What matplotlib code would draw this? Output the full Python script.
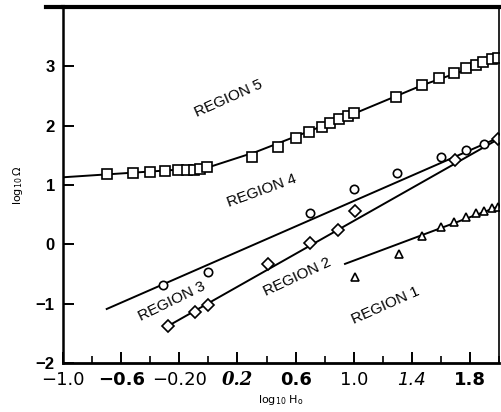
import matplotlib.pyplot as plt
from matplotlib.ticker import MultipleLocator

# region 5 (squares)
r5_x = [-0.70, -0.52, -0.40, -0.30, -0.21, -0.15, -0.10, -0.06, -0.01,
        0.30, 0.48, 0.60, 0.69, 0.78, 0.84, 0.90, 0.96, 1.00,
        1.29, 1.47, 1.59, 1.69, 1.77, 1.84, 1.89, 1.95, 1.99]
r5_y = [1.18, 1.20, 1.22, 1.23, 1.25, 1.25, 1.25, 1.27, 1.30,
        1.47, 1.64, 1.79, 1.89, 1.97, 2.04, 2.11, 2.17, 2.21,
        2.48, 2.68, 2.80, 2.88, 2.97, 3.03, 3.08, 3.12, 3.14]
r5_line_x = [-1.0, -0.01, 0.33, 1.0, 1.47, 2.0]
r5_line_y = [1.13, 1.29, 1.56, 2.20, 2.68, 3.14]

# region 4 / 3 (circles)
r4_x = [-0.31, 0.00, 0.70, 1.00, 1.30, 1.60, 1.77, 1.90]
r4_y = [-0.69, -0.47, 0.52, 0.93, 1.21, 1.47, 1.59, 1.69]
r4_line_x = [-0.70, 2.0]
r4_line_y = [-1.09, 1.80]

# region 2 / 3 (diamonds)
r2_x = [-0.28, -0.09, 0.00, 0.41, 0.70, 0.89, 1.01, 1.70, 1.99]
r2_y = [-1.38, -1.14, -1.02, -0.33, 0.02, 0.24, 0.56, 1.42, 1.77]
r2_line_x = [-0.28, 2.0]
r2_line_y = [-1.38, 1.78]

# region 1 (triangles)
r1_x = [1.01, 1.31, 1.47, 1.60, 1.69, 1.77, 1.84, 1.90, 1.95, 1.99]
r1_y = [-0.55, -0.17, 0.14, 0.29, 0.37, 0.46, 0.52, 0.56, 0.61, 0.63]
r1_line_x = [0.94, 2.0]
r1_line_y = [-0.33, 0.64]

region_labels = ["REGION 5", "REGION 4", "REGION 3", "REGION 2", "REGION 1"]
label_x = [0.14, 0.37, -0.25, 0.61, 1.22]
label_y = [2.46, 0.91, -0.97, -0.55, -1.04]
label_rot = [24, 20, 26, 25, 24]

xtick_vals = [-1.0, -0.6, -0.2, 0.2, 0.6, 1.0, 1.4, 1.8]
xtick_text = ["\u22121.0", "\u22120.6", "\u22120.20", "0.2", "0.6", "1.0", "1.4", "1.8"]
ytick_vals = [-2, -1, 0, 1, 2, 3]
ytick_text = ["\u22122", "\u22121", "0", "1", "2", "3"]

fig = plt.figure(figsize=(5.01, 4.12), dpi=100)
ax = fig.add_axes([0.126, 0.119, 0.870, 0.864])

mk = dict(color="black", mfc="white", mec="black", mew=1.2, ls="none")
ax.plot(r5_line_x, r5_line_y, color="black", lw=1.4)
ax.plot(r4_line_x, r4_line_y, color="black", lw=1.4)
ax.plot(r2_line_x, r2_line_y, color="black", lw=1.4)
ax.plot(r1_line_x, r1_line_y, color="black", lw=1.4)
ax.plot(r5_x, r5_y, marker="s", ms=6.5, **mk)
ax.plot(r4_x, r4_y, marker="o", ms=6, **mk)
ax.plot(r2_x, r2_y, marker="D", ms=6.3, **mk)
ax.plot(r1_x, r1_y, marker="^", ms=6.2, **mk)

for t, x, y, r in zip(region_labels, label_x, label_y, label_rot):
    ax.text(x, y, t, rotation=r, ha="center", va="center", fontsize=11,
            family="Liberation Sans", rotation_mode="anchor")

ax.set_xlim(-1.0, 2.0)
ax.set_ylim(-2, 4)
ax.set_xticks(xtick_vals)
ax.set_xticklabels(xtick_text)
ax.xaxis.set_minor_locator(MultipleLocator(0.2))
ax.set_yticks(ytick_vals)
ax.set_yticklabels(ytick_text, fontsize=12, fontweight="bold", family="Liberation Sans")

# the scanned original mixes fonts on the x labels
styles = [
    dict(weight="normal", style="normal", family="DejaVu Sans"),
    dict(weight="bold", style="normal", family="DejaVu Sans"),
    dict(weight="normal", style="normal", family="DejaVu Sans"),
    dict(weight="bold", style="italic", family="DejaVu Serif"),
    dict(weight="bold", style="normal", family="DejaVu Sans"),
    dict(weight="normal", style="normal", family="DejaVu Sans"),
    dict(weight="normal", style="italic", family="DejaVu Sans"),
    dict(weight="bold", style="normal", family="DejaVu Sans"),
]
for lbl, st in zip(ax.get_xticklabels(), styles):
    lbl.set_fontsize(13)
    lbl.set_fontweight(st["weight"])
    lbl.set_fontstyle(st["style"])
    lbl.set_family(st["family"])

ax.tick_params(axis="both", which="major", direction="in", length=8, width=1.4,
               colors="black", pad=6)
ax.tick_params(axis="x", which="minor", direction="in", length=5, width=1.2)
ax.tick_params(top=False, right=False)

ax.spines["top"].set_linewidth(3)
ax.spines["bottom"].set_linewidth(2)
ax.spines["left"].set_linewidth(1.8)
ax.spines["right"].set_linewidth(1.2)

# top border in the scan runs a bit past the left axis
ax.plot([-1.12, -1.0], [4, 4], color="black", lw=3, clip_on=False,
        transform=ax.transData)

ax.set_xlabel(r"log$_{10}$ H$_\mathrm{o}$", fontsize=8, labelpad=3)
ax.set_ylabel(r"log$_{10}\,\Omega$", fontsize=8, labelpad=8)

fig.savefig("out.png", dpi=100)
